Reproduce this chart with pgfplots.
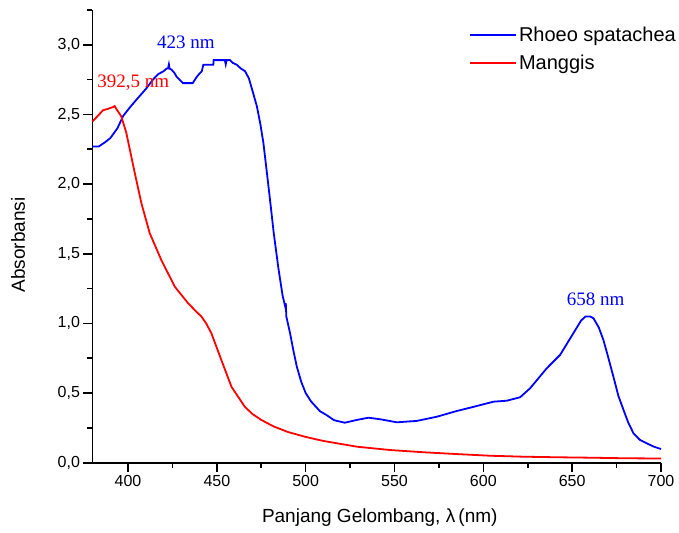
\documentclass[border=0pt]{standalone}
\usepackage{fontspec}
\setmainfont{Liberation Sans}
\newfontfamily\serifnum{Liberation Serif}
\usepackage{pgfplots}
\pgfplotsset{compat=1.18}
\definecolor{cblue}{RGB}{0,0,255}
\definecolor{cred}{RGB}{255,0,0}
\pgfplotsset{longlegend/.style={legend image code/.code={\draw[mark repeat=2,mark phase=2,##1] plot coordinates {(0pt,0pt) (23pt,0pt) (46pt,0pt)};}}}
\begin{document}
\begin{tikzpicture}
\begin{axis}[
  scale only axis,
  width=568.5pt, height=452.7pt,
  xmin=380, xmax=700, ymin=0, ymax=3.25,
  axis x line*=bottom, axis y line*=left,
  axis line style={line width=1.6pt, -},
  xtick={400,450,...,700},
  ytick={0,0.5,...,3.0},
  minor xtick={425,475,...,675},
  minor ytick={0.25,0.75,...,3.25},
  tick align=outside,
  major tick length=9pt, minor tick length=5pt,
  major tick style={line width=1.6pt, draw=black},
  minor tick style={line width=1.6pt, draw=black},
  /pgf/number format/assume math mode=true,
  tick label style={font=\fontsize{16}{19}\selectfont},
  yticklabel style={/pgf/number format/.cd, fixed, fixed zerofill, precision=1, use comma},
  xticklabel style={/pgf/number format/.cd, fixed, precision=0, 1000 sep={}},
  xlabel={Panjang Gelombang, λ\,(nm)},
  ylabel={Absorbansi},
  label style={font=\fontsize{19}{22}\selectfont},
  xlabel style={at={(axis description cs:0.5053,-0.1332)}, anchor=base},
  ylabel style={at={(axis description cs:-0.131,0.481)}, anchor=center},
  legend style={at={(axis description cs:0.657,0.972)}, anchor=north west, draw=none, fill=none,
    font=\fontsize{20}{24}\selectfont, row sep=8pt},
  legend cell align=left,
  longlegend,
  clip=false,
]
\coordinate (sw) at (rel axis cs:0,0);
\addplot[color=cblue, line width=1.8pt] coordinates {
(380,2.27) (383.5,2.27) (387,2.30) (390,2.33) (394,2.40) (397.3,2.49) (401,2.55) (405,2.61)
(410.5,2.69) (414,2.75) (417,2.79) (420,2.81) (421.8,2.83) (422.5,2.83) (423,2.86) (423.4,2.83)
(424.6,2.82) (426,2.80) (427.4,2.77) (429,2.75) (431,2.725) (436.4,2.725) (438.7,2.77) (440,2.79)
(441.5,2.81) (442.4,2.857) (448,2.857) (448.2,2.89) (454.5,2.89) (455,2.86) (455.5,2.89) (457.4,2.89)
(459,2.87) (461.2,2.857) (463.5,2.83) (465.9,2.81) (468,2.76) (469.6,2.69) (472.5,2.56) (474.5,2.43)
(476.2,2.295) (478,2.10) (479.9,1.89) (482,1.65) (484.6,1.40) (487,1.20) (488.5,1.12) (488.8,1.145)
(489.1,1.05) (491.2,0.93) (493,0.81) (495,0.69) (497.5,0.58) (500,0.50) (503,0.44) (508,0.37)
(512,0.34) (516,0.305) (522,0.287) (528.8,0.307) (535.3,0.323) (541.9,0.312) (551.3,0.29) (562.5,0.30)
(573.8,0.33) (585,0.371) (596.3,0.407) (605.7,0.438) (613.2,0.445) (620.7,0.47) (626.3,0.534) (635.7,0.678)
(643.2,0.774) (650.7,0.93) (655,1.02) (657.5,1.05) (660,1.05) (662,1.037) (665,0.97) (667.6,0.88)
(670,0.77) (673.2,0.618) (676,0.48) (678.9,0.379) (681.5,0.29) (684.5,0.211) (688,0.165) (692,0.139)
(696,0.115) (700,0.098)
};
\addlegendentry{Rhoeo spatachea}
\addplot[color=cred, line width=1.8pt] coordinates {
(380,2.45) (383,2.49) (385.9,2.53) (388.6,2.54) (391.5,2.553) (392.5,2.56) (393.4,2.54) (396.2,2.486)
(399,2.37) (401.8,2.20) (403.8,2.08) (407.5,1.864) (412.2,1.648) (418.7,1.456) (426.3,1.264) (433.8,1.145)
(438,1.09) (441.3,1.049) (444,1.00) (446.9,0.93) (452.5,0.738) (458.2,0.546) (465.7,0.402) (470,0.35)
(475,0.307) (482,0.26) (490.1,0.22) (500,0.185) (510,0.156) (528.8,0.115) (547.5,0.091) (566.3,0.075)
(585,0.062) (603.8,0.05) (622.6,0.043) (641.4,0.039) (660.1,0.036) (678.9,0.032) (700,0.03)
};
\addlegendentry{Manggis}
\pgfplotsinvokeforeach{400,450,500,550,600,650,700}{
  \draw[line width=1.6pt, black] (axis cs:#1,0) -- ++(0pt,-9pt);
}
\pgfplotsinvokeforeach{425,475,525,575,625,675}{
  \draw[line width=1.6pt, black] (axis cs:#1,0) -- ++(0pt,-5pt);
}
\pgfplotsinvokeforeach{0,0.5,1,1.5,2,2.5,3}{
  \draw[line width=1.6pt, black] (axis cs:380,#1) -- ++(-9pt,0pt);
}
\pgfplotsinvokeforeach{0.25,0.75,1.25,1.75,2.25,2.75,3.25}{
  \draw[line width=1.6pt, black] (axis cs:380,#1) -- ++(-5pt,0pt);
}
\node[text=cblue, font=\serifnum\fontsize{19}{22}\selectfont] at (axis cs:432.6,3.015) {423 nm};
\node[text=cred, font=\serifnum\fontsize{19}{22}\selectfont] at (axis cs:403,2.73) {392,5 nm};
\node[text=cblue, font=\serifnum\fontsize{19}{22}\selectfont] at (axis cs:663.2,1.17) {658 nm};
\end{axis}
\pgfresetboundingbox
\path[use as bounding box] ([shift={(-92.5pt,-69.3pt)}]sw) rectangle ++(679pt,532pt);
\end{tikzpicture}
\end{document}
